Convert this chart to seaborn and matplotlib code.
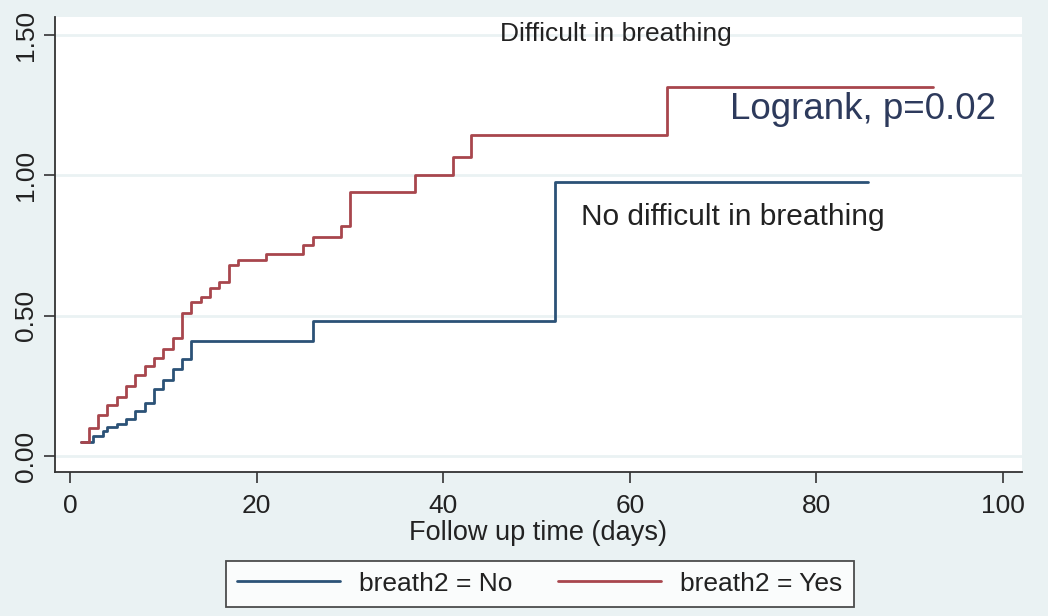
import matplotlib
matplotlib.use("Agg")
import matplotlib.pyplot as plt
import seaborn as sns
import pandas as pd

# cumulative hazard, Nelson-Aalen style steps
dias_no = [1.2, 2.5, 3.5, 4, 5, 6, 7, 8, 9, 10, 11, 12, 13, 26, 52, 85.5]
haz_no = [0.05, 0.07, 0.09, 0.105, 0.115, 0.13, 0.16, 0.19, 0.24, 0.27, 0.31, 0.345,
          0.41, 0.48, 0.975, 0.975]

dias_si = [1.2, 2, 3, 4, 5, 6, 7, 8, 9, 10, 11, 12, 13, 14, 15, 16, 17, 18, 21, 25,
           26, 29, 30, 37, 41, 43, 64, 92.5]
haz_si = [0.05, 0.10, 0.145, 0.18, 0.21, 0.25, 0.29, 0.32, 0.35, 0.38, 0.42, 0.51,
          0.55, 0.565, 0.60, 0.62, 0.68, 0.70, 0.72, 0.75, 0.78, 0.82, 0.94, 1.00,
          1.065, 1.145, 1.315, 1.315]

x_ticks = [0, 20, 40, 60, 80, 100]
y_ticks = [0.0, 0.5, 1.0, 1.5]
y_labels = ["0.00", "0.50", "1.00", "1.50"]

BG = "#EAF2F3"
AZUL = "#2b5277"
ROJO = "#a8464d"

sns.set_theme(style="white")
plt.rcParams['font.family'] = ['Liberation Sans', 'DejaVu Sans']

df_no = pd.DataFrame({"t": dias_no, "h": haz_no})
df_si = pd.DataFrame({"t": dias_si, "h": haz_si})

fig = plt.figure(figsize=(10.48, 6.16), dpi=100, facecolor=BG)
ax = fig.add_axes([0.0525, 0.2338, 0.9225, 0.7386])
ax.set_facecolor("white")

# lineas de grilla
for yv in y_ticks:
    ax.axhline(yv, color=BG, lw=2, zorder=0)

sns.lineplot(data=df_no, x="t", y="h", drawstyle="steps-post", color=AZUL, lw=2,
             ax=ax, label="breath2 = No", legend=False)
sns.lineplot(data=df_si, x="t", y="h", drawstyle="steps-post", color=ROJO, lw=2,
             ax=ax, label="breath2 = Yes", legend=False)

ax.set_xlim(-1.6, 102)
ax.set_ylim(-0.057, 1.564)
ax.set_xticks(x_ticks)
ax.set_yticks(y_ticks)
ax.set_yticklabels(y_labels, rotation=90, va="center")
ax.tick_params(axis="both", direction="out", length=8, width=1.2, color="#333333",
               labelsize=19, labelcolor="#222222", left=True, bottom=True, pad=8)
ax.tick_params(axis="y", pad=4)
ax.set_xlabel("Follow up time (days)", fontsize=19.5, color="#222222", labelpad=1)
ax.set_ylabel("")

for s in ["top", "right"]:
    ax.spines[s].set_visible(False)
for s in ["left", "bottom"]:
    ax.spines[s].set_color("#333333")
    ax.spines[s].set_linewidth(1.3)

ax.text(0.58, 0.963, "Difficult in breathing", transform=ax.transAxes, ha="center",
        va="center", fontsize=19, color="#222222")
ax.text(85, 1.233, "Logrank, p=0.02", ha="center", va="center", fontsize=26.5,
        color="#2d3a5c")
ax.text(71, 0.85, "No difficult in breathing", ha="center", va="center",
        fontsize=21.5, color="#222222")

leg = ax.legend(loc="center", bbox_to_anchor=(0.515, 0.0525), bbox_transform=fig.transFigure,
                ncol=2, fontsize=19, frameon=True, fancybox=False, handlelength=3.9,
                handletextpad=0.75, columnspacing=1.7, borderpad=0.42)
leg.get_frame().set_edgecolor("#222222")
leg.get_frame().set_linewidth(1.3)
for t in leg.get_texts():
    t.set_color("#222222")

fig.savefig("out.png", dpi=100, facecolor=BG)
